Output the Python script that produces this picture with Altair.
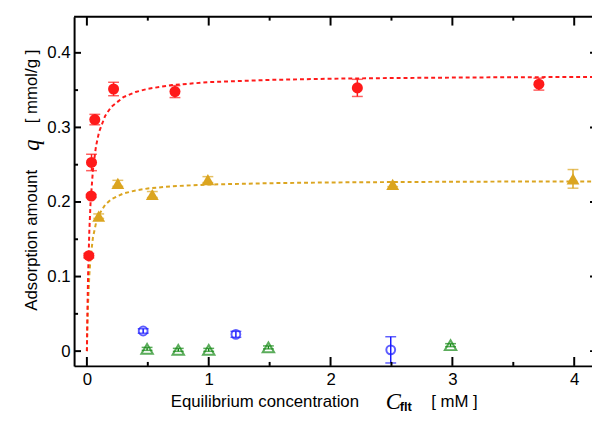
import altair as alt
import pandas as pd

# ---- data ----
red_c = [0.016, 0.035, 0.038, 0.065, 0.219, 0.723, 2.22, 3.71]
red_q = [0.128, 0.208, 0.253, 0.3105, 0.3515, 0.348, 0.353, 0.358]
red_err = [0.003, 0.002, 0.011, 0.007, 0.009, 0.008, 0.0115, 0.008]

yel_c = [0.097, 0.254, 0.537, 0.993, 2.51, 3.99]
yel_q = [0.181, 0.225, 0.210, 0.230, 0.2236, 0.231]
yel_err = [0.003, 0.004, 0.004, 0.004, 0.003, 0.0125]

blue_c = [0.462, 1.223, 2.494]
blue_q = [0.027, 0.0225, 0.0017]
blue_err = [0.003, 0.004, 0.0176]

green_c = [0.494, 0.75, 1.0, 1.49, 2.985]
green_q = [0.003, 0.0017, 0.0017, 0.005, 0.008]
green_err = [0.002, 0.002, 0.002, 0.002, 0.002]

fit_c = [0, 0.005, 0.01, 0.02, 0.03, 0.05, 0.075, 0.1, 0.15, 0.2, 0.3, 0.4,
         0.5, 0.7, 1.0, 1.5, 2.0, 2.5, 3.0, 3.5, 4.0, 4.15]
fit_red = [0, 0.0599, 0.103, 0.161, 0.1986, 0.2437, 0.275, 0.2939, 0.3155,
           0.3276, 0.3406, 0.3475, 0.3518, 0.3568, 0.3607, 0.3637, 0.3653,
           0.3662, 0.3668, 0.3673, 0.3676, 0.3677]
fit_yel = [0, 0.0382, 0.0654, 0.1018, 0.1249, 0.1527, 0.1718, 0.1832, 0.1963,
           0.2036, 0.2114, 0.2155, 0.2181, 0.2211, 0.2234, 0.2252, 0.2262,
           0.2267, 0.2271, 0.2274, 0.2276, 0.2276]

x_major = [0, 1, 2, 3, 4]
x_minor = [0.5, 1.5, 2.5, 3.5]
y_major = [0, 0.1, 0.2, 0.3, 0.4]
y_minor = [0.05, 0.15, 0.25, 0.35]

# ---- layout / style ----
W, H = 525, 354
RED = "#ff1a1a"
YEL = "#dba520"
BLUE = "#1a1aff"
GREEN = "#168a16"
SANS = "Liberation Sans"
SERIF = "Liberation Serif"

xscale = alt.Scale(domain=[-0.105, 4.146], nice=False, zero=False)
yscale = alt.Scale(domain=[-0.0198, 0.4485], nice=False, zero=False)
xaxis = alt.Axis(values=x_major, format="d", ticks=False, tickSize=0, grid=False,
                 domainColor="black", domainWidth=2, labelFont=SANS,
                 labelFontSize=17, labelColor="black", labelPadding=6, title=None)
yaxis = alt.Axis(values=y_major, format=".1~f", ticks=False, tickSize=0, grid=False,
                 domainColor="black", domainWidth=2, labelFont=SANS,
                 labelFontSize=17, labelColor="black", labelPadding=4, title=None)


def X(f="c"):
    return alt.X(f"{f}:Q", scale=xscale, axis=xaxis)


def Y(f="q"):
    return alt.Y(f"{f}:Q", scale=yscale, axis=yaxis)


def series(c, q, e):
    return pd.DataFrame({"c": c, "q": q, "lo": [a - b for a, b in zip(q, e)],
                         "hi": [a + b for a, b in zip(q, e)]})


def errbars(df, color):
    bar = alt.Chart(df).mark_rule(color=color, strokeWidth=1.5).encode(
        x=X(), y=Y("lo"), y2="hi")
    lo = alt.Chart(df).mark_tick(color=color, orient="horizontal", size=11,
                                 thickness=1.5).encode(x=X(), y=Y("lo"))
    hi = alt.Chart(df).mark_tick(color=color, orient="horizontal", size=11,
                                 thickness=1.5).encode(x=X(), y=Y("hi"))
    return [bar, lo, hi]


red = series(red_c, red_q, red_err)
yel = series(yel_c, yel_q, yel_err)
blue = series(blue_c, blue_q, blue_err)
green = series(green_c, green_q, green_err)
fit = pd.DataFrame({"c": fit_c, "r": fit_red, "y": fit_yel})

one = alt.Data(values=[{}])

layers = []
# fits
layers.append(alt.Chart(fit).mark_line(color=YEL, strokeWidth=2, strokeDash=[4, 3]).encode(
    x=X(), y=Y("y")))
layers.append(alt.Chart(fit).mark_line(color=RED, strokeWidth=2, strokeDash=[4, 3]).encode(
    x=X(), y=Y("r")))
# series
layers += errbars(green, GREEN)
layers.append(alt.Chart(green).mark_point(shape="triangle-up", filled=False, color=GREEN,
                                           strokeWidth=2, size=135).encode(x=X(), y=Y()))
layers += errbars(blue, BLUE)
layers.append(alt.Chart(blue).mark_point(shape="circle", filled=False, color=BLUE,
                                          strokeWidth=2, size=80).encode(x=X(), y=Y()))
layers += errbars(yel, YEL)
layers.append(alt.Chart(yel).mark_point(shape="triangle-up", filled=True, color=YEL,
                                         opacity=1, size=170).encode(x=X(), y=Y()))
layers += errbars(red, RED)
layers.append(alt.Chart(red).mark_point(shape="circle", filled=True, color=RED,
                                         opacity=1, size=125).encode(x=X(), y=Y()))

# frame: top line and inward ticks
layers.append(alt.Chart(one).mark_rule(color="black", strokeWidth=2).encode(
    x=alt.value(0), x2=alt.value(W), y=alt.value(0)))
tx = pd.DataFrame({"c": x_major})
txm = pd.DataFrame({"c": x_minor})
ty = pd.DataFrame({"q": y_major})
tym = pd.DataFrame({"q": y_minor})
tk = dict(color="black", strokeWidth=2)
layers.append(alt.Chart(tx).mark_rule(**tk).encode(x=X(), y=alt.value(H), y2=alt.value(H - 9)))
layers.append(alt.Chart(txm).mark_rule(**tk).encode(x=X(), y=alt.value(H), y2=alt.value(H - 4)))
layers.append(alt.Chart(tx).mark_rule(**tk).encode(x=X(), y=alt.value(0), y2=alt.value(9)))
layers.append(alt.Chart(txm).mark_rule(**tk).encode(x=X(), y=alt.value(0), y2=alt.value(4)))
layers.append(alt.Chart(ty).mark_rule(**tk).encode(y=Y(), x=alt.value(0), x2=alt.value(7)))
layers.append(alt.Chart(tym).mark_rule(**tk).encode(y=Y(), x=alt.value(0), x2=alt.value(4)))
layers.append(alt.Chart(ty).mark_rule(**tk).encode(y=Y(), x=alt.value(W - 2), x2=alt.value(W)))

# axis titles (mixed fonts)
def txt(s, x, y, font=SANS, size=17, style="normal", weight="normal", angle=0):
    return alt.Chart(one).mark_text(font=font, fontSize=size, fontStyle=style,
                                    fontWeight=weight, align="left",
                                    baseline="alphabetic", angle=angle,
                                    color="black").encode(
        x=alt.value(x), y=alt.value(y), text=alt.value(s))

layers.append(txt("Equilibrium concentration", 98, 396))
layers.append(txt("C", 316, 398, font=SERIF, size=23, style="italic"))
layers.append(txt("flt", 330, 400, size=13, weight="bold"))
layers.append(txt("[ mM ]", 362, 396))
layers.append(txt("Adsorption amount", -38, 298, angle=270))
layers.append(txt("q", -36, 136, font=SERIF, size=23, style="italic", angle=270))
layers.append(txt("[ mmol/g ]", -38, 108, angle=270))

chart = alt.layer(*layers).properties(
    width=W, height=H,
    autosize=alt.AutoSizeParams(type="none"),
    padding={"left": 67, "top": 6, "right": 0, "bottom": 47},
).configure_view(stroke=None)

chart.save("out.html", embed_options={"renderer": "svg", "actions": False})
